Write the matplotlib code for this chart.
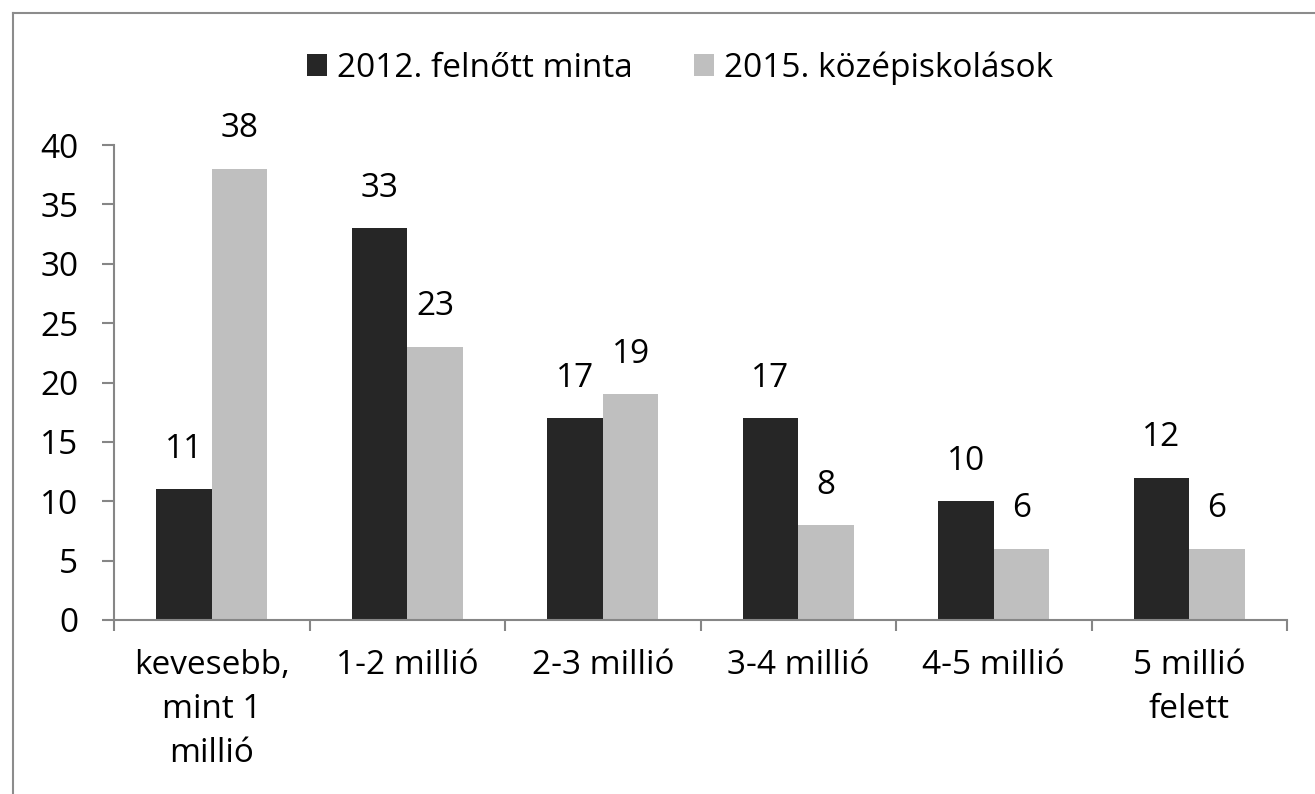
import matplotlib
matplotlib.use("Agg")
from matplotlib import pyplot as plt
from matplotlib.lines import Line2D
import numpy as np

categories = ["kevesebb,\nmint 1\nmillió", "1-2 millió", "2-3 millió",
              "3-4 millió", "4-5 millió", "5 millió\nfelett"]
series_names = ["2012. felnőtt minta", "2015. középiskolások"]
felnott_2012 = [11, 33, 17, 17, 10, 12]
kozepisk_2015 = [38, 23, 19, 8, 6, 6]

plt.rcParams['font.family'] = ['Open Sans', 'DejaVu Sans']
fs = 24
dark = '#262626'
light = '#bfbfbf'
axcol = '#868686'

fig = plt.figure(figsize=(13.15, 7.94), dpi=100)
ax = fig.add_axes([114 / 1315, 1 - 620 / 794, (1287 - 114) / 1315, (620 - 145) / 794])

x = np.arange(len(categories))
w = 0.285
b1 = ax.bar(x - w / 2, felnott_2012, w, color=dark, label=series_names[0])
b2 = ax.bar(x + w / 2, kozepisk_2015, w, color=light, label=series_names[1])

# adatfeliratok a oszlopok felett
for bars, vals in ((b1, felnott_2012), (b2, kozepisk_2015)):
    for r, v in zip(bars, vals):
        ax.annotate(str(v), (r.get_x() + r.get_width() / 2, v),
                    xytext=(0, 40), textcoords='offset pixels',
                    ha='center', va='center', fontsize=fs, color='black')

ax.set_xlim(-0.5, len(categories) - 0.5)
ax.set_ylim(0, 40)
ax.set_yticks(range(0, 41, 5))

for s in ['top', 'right']:
    ax.spines[s].set_visible(False)
for s in ['left', 'bottom']:
    ax.spines[s].set_color(axcol)
    ax.spines[s].set_linewidth(1.5)

ax.tick_params(axis='y', length=8.6, width=1.5, color=axcol, pad=17, labelsize=fs)
ax.set_xticks(x)
ax.set_xticklabels(categories, fontsize=fs, linespacing=1.44)
ax.tick_params(axis='x', which='major', length=0, pad=21)
ax.set_xticks(np.arange(-0.5, len(categories)), minor=True)
ax.tick_params(axis='x', which='minor', length=8, width=1.5, color=axcol)

fig.legend(loc='center', bbox_to_anchor=(680 / 1315, 1 - 68 / 794), ncol=2,
           frameon=False, fontsize=fs, handlelength=0.6, handleheight=0.6,
           handletextpad=0.3, columnspacing=1.85)

# keret (csak a bal és felső éle látszik)
fig.add_artist(Line2D([13 / 1315, 1.0], [1 - 13 / 794, 1 - 13 / 794],
                      transform=fig.transFigure, color='#8c8c8c', lw=1.5))
fig.add_artist(Line2D([13 / 1315, 13 / 1315], [1 - 13 / 794, 0.0],
                      transform=fig.transFigure, color='#8c8c8c', lw=1.5))

fig.savefig('out.png', dpi=100, facecolor='white')
